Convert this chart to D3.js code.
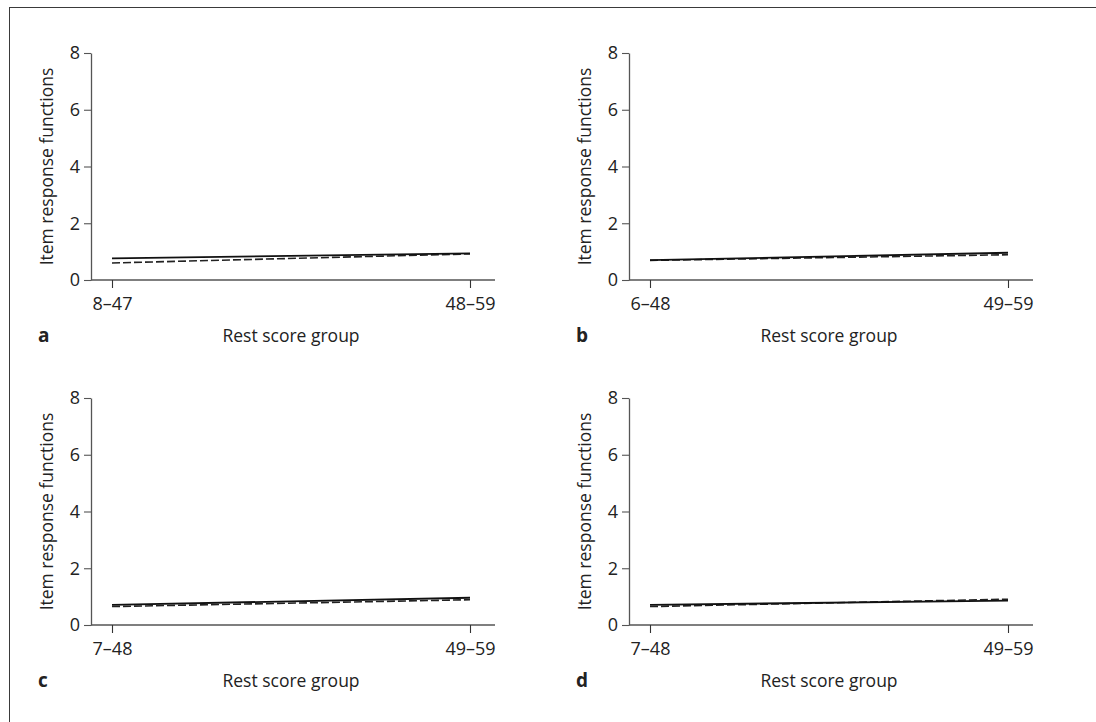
<!DOCTYPE html>
<html>
<head>
<meta charset="utf-8">
<script src="https://cdn.jsdelivr.net/npm/d3@7"></script>
<style>
  html, body { margin: 0; padding: 0; background: #fff; }
  svg text { font-family: "Open Sans", "Noto Sans", sans-serif; fill: #222; }
</style>
</head>
<body>
<svg id="chart" width="1096" height="722"></svg>
<script>
// ---- data ----
const panelLetters = ["a", "b", "c", "d"];
const groupsA = ["8–47", "48–59"];
const groupsB = ["6–48", "49–59"];
const groupsC = ["7–48", "49–59"];
const groupsD = ["7–48", "49–59"];
const solidA = [0.76, 0.94];
const dashedA = [0.60, 0.92];
const solidB = [0.70, 0.96];
const dashedB = [0.69, 0.89];
const solidC = [0.71, 0.96];
const dashedC = [0.65, 0.89];
const solidD = [0.71, 0.86];
const dashedD = [0.65, 0.91];
const yTicks = [0, 2, 4, 6, 8];
const yLabel = "Item response functions";
const xLabel = "Rest score group";

const panels = [
  { letter: panelLetters[0], groups: groupsA, solid: solidA, dashed: dashedA },
  { letter: panelLetters[1], groups: groupsB, solid: solidB, dashed: dashedB },
  { letter: panelLetters[2], groups: groupsC, solid: solidC, dashed: dashedC },
  { letter: panelLetters[3], groups: groupsD, solid: solidD, dashed: dashedD }
];

// ---- layout ----
const svg = d3.select("#chart");
// frame (only top and left edges visible)
svg.append("rect").attr("x", 9.5).attr("y", 7.5).attr("width", 1200).attr("height", 800)
  .attr("fill", "none").attr("stroke", "#3a3a3a").attr("stroke-width", 1);

const colX = [91, 629];
const rowTop = [53, 398];
const plotW = 404, plotH = 227;

panels.forEach((p, i) => {
  const ox = colX[i % 2], oy = rowTop[Math.floor(i / 2)];
  const g = svg.append("g").attr("transform", `translate(${ox},${oy})`);

  const x = d3.scalePoint().domain(p.groups).range([21, 379]);
  const y = d3.scaleLinear().domain([0, 8]).range([plotH, 0]);

  // y axis
  const ya = g.append("g").call(d3.axisLeft(y).tickValues(yTicks).tickSize(7).tickSizeOuter(0).tickPadding(4));
  ya.select(".domain").attr("stroke", "#555").attr("stroke-width", 1.3);
  ya.selectAll(".tick line").attr("stroke", "#555").attr("stroke-width", 1.1);
  ya.selectAll(".tick text").attr("font-size", 18).style("fill", "#222")
    .attr("font-family", "Open Sans");

  // x axis
  const xa = g.append("g").attr("transform", `translate(0,${plotH})`)
    .call(d3.axisBottom(x).tickSize(8).tickSizeOuter(0).tickPadding(9));
  xa.select(".domain").attr("d", `M0,0H${plotW}`).attr("stroke", "#555").attr("stroke-width", 1.3);
  xa.selectAll(".tick line").attr("stroke", "#333").attr("stroke-width", 1.1);
  xa.selectAll(".tick text").attr("font-size", 18).style("fill", "#222")
    .attr("font-family", "Open Sans");

  // lines
  const line = d3.line().x((d, k) => x(p.groups[k])).y(d => y(d));
  g.append("path").datum(p.dashed).attr("d", line).attr("fill", "none")
    .attr("stroke", "#222").attr("stroke-width", 1.6).attr("stroke-dasharray", "8,3");
  g.append("path").datum(p.solid).attr("d", line).attr("fill", "none")
    .attr("stroke", "#111").attr("stroke-width", 1.8);

  // axis titles
  g.append("text").attr("transform", `translate(${-38},${plotH / 2}) rotate(-90)`)
    .attr("text-anchor", "middle").attr("font-size", 17.5).text(yLabel);
  g.append("text").attr("x", 200).attr("y", plotH + 62)
    .attr("text-anchor", "middle").attr("font-size", 17.5).text(xLabel);

  // panel letter
  g.append("text").attr("x", -53).attr("y", plotH + 62)
    .attr("font-size", 19).attr("font-weight", "bold").text(p.letter);
});
</script>
</body>
</html>
